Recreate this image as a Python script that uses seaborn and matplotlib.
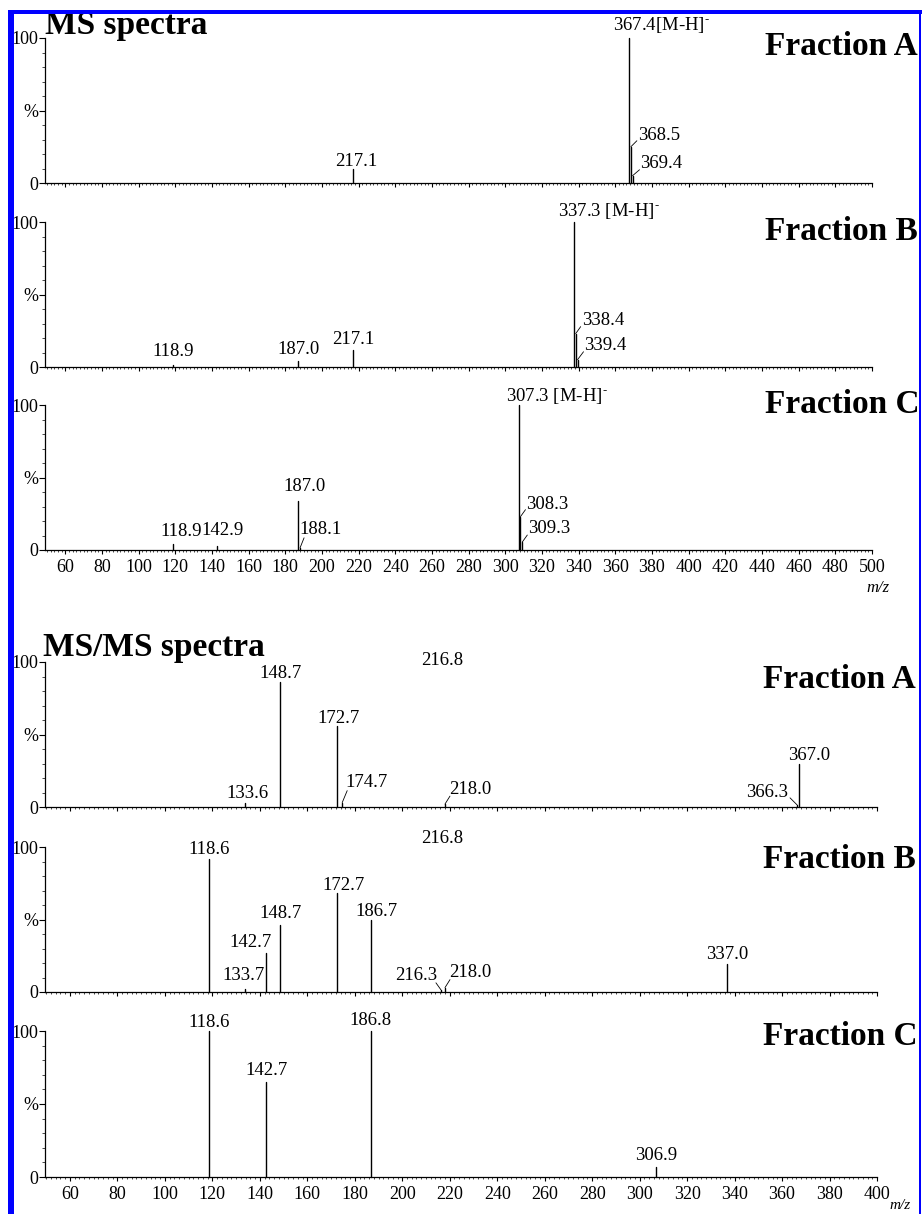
import numpy as np
import pandas as pd
import matplotlib
matplotlib.use("Agg")
import matplotlib.pyplot as plt
from matplotlib.patches import Rectangle
from matplotlib.ticker import MultipleLocator, FixedLocator
import seaborn as sns

# ---------------- data ----------------
TAG = r"[M-H]$^{\text{-}}$"

ms_a_mz = [217.1, 367.4, 368.5, 369.4]
ms_a_int = [10, 100, 25, 5]
ms_a_suffix = ["", TAG, "", ""]

ms_b_mz = [118.9, 187.0, 217.1, 337.3, 338.4, 339.4]
ms_b_int = [1.5, 4, 12, 100, 23, 5]
ms_b_suffix = ["", "", "", " " + TAG, "", ""]

ms_c_mz = [118.9, 142.9, 187.0, 188.1, 307.3, 308.3, 309.3]
ms_c_int = [4, 3, 34, 1.5, 100, 23, 5.5]
ms_c_suffix = ["", "", "", "", " " + TAG, "", ""]

msms_a_mz = [133.6, 148.7, 172.7, 174.7, 218.0, 366.3, 367.0]
msms_a_int = [3, 86, 56, 3, 2, 1.5, 30]

msms_b_mz = [118.6, 133.7, 142.7, 148.7, 172.7, 186.7, 216.3, 218.0, 337.0]
msms_b_int = [92, 2, 27, 46, 68, 50, 1.5, 3, 19]

msms_c_mz = [118.6, 142.7, 186.8, 306.9]
msms_c_int = [100, 65, 100, 7]

# base peak of MS/MS A and B: only its label is printed (above the frame)
msms_base_mz = 216.8

fractions = ["Fraction A", "Fraction B", "Fraction C"]
block_titles = ["MS spectra", "MS/MS spectra"]
ms_xticks = list(range(60, 501, 20))
msms_xticks = list(range(60, 401, 20))
y_ticks = [0, 50, 100]
y_ticklabels = ["0", "%", "100"]

# ---------------- layout (pixels) ----------------
W, H = 922, 1214
LBL = 13.5
TITLE = 24
# label layout per peak: (dx, dy, ha, leader)  leader = (x0, y0, x1, y1) in px
ms_a_lay = [(3, 3, "center", None), (-16, 8, "left", None),
            (7, 7, "left", (1, 1, 6, 6)), (8, 8, "left", (1, 1, 7, 6))]
ms_b_lay = [(0, 9, "center", None), (0, 7, "center", None), (0, 6, "center", None),
            (-16, 6, "left", None), (6, 9, "left", (1, 1, 5, 7)),
            (7, 10, "left", (1, 1, 6, 8))]
ms_c_lay = [(8, 8, "center", None), (5, 11, "center", None), (6, 10, "center", None),
            (-1, 14, "left", (0, 1, 4, 10)), (-13, 4, "left", None),
            (6, 8, "left", (1, 1, 5, 7)), (6, 9, "left", (1, 1, 5, 7))]
msms_a_lay = [(3, 5, "center", None), (0, 4, "center", None), (1, 3, "center", None),
              (3, 16, "left", (0, 2, 5, 12)), (4, 10, "left", (1, 1, 5, 8)),
              (-9, 8, "right", (-1, 1, -7, 7)), (10, 3, "center", None)]
msms_b_lay = [(0, 5, "center", None), (-1, 9, "center", None), (-16, 6, "center", None),
              (0, 7, "center", None), (6, 3, "center", None), (6, 4, "center", None),
              (-4, 10, "right", (-1, 1, -5, 7)), (4, 11, "left", (1, 1, 5, 8)),
              (0, 5, "center", None)]
msms_c_lay = [(0, 4, "center", None), (0, 7, "center", None), (0, 6, "center", None),
              (0, 7, "center", None)]

sns.set_style("ticks", rc={"axes.edgecolor": "black", "xtick.color": "black",
                           "ytick.color": "black", "text.color": "black",
                           "axes.labelcolor": "black"})
plt.rcParams["font.family"] = ["Liberation Serif", "DejaVu Serif"]
plt.rcParams["mathtext.fontset"] = "stix"

fig = plt.figure(figsize=(W / 100, H / 100), dpi=100)


def add_ax(left, right, top, bottom):
    return fig.add_axes([left / W, 1 - bottom / H, (right - left) / W, (bottom - top) / H])


def draw_panel(ax, mz, inten, lay, xlim, xticks, suffix=None, show_labels=False):
    n = len(mz)
    df = pd.DataFrame({
        "mz": np.repeat(mz, 2),
        "intensity": np.column_stack([np.zeros(n), inten]).ravel(),
        "peak": np.repeat(np.arange(n), 2),
    })
    sns.lineplot(data=df, x="mz", y="intensity", units="peak", estimator=None,
                 color="black", lw=1.0, ax=ax, legend=False, clip_on=False)
    for i, (m, v) in enumerate(zip(mz, inten)):
        dx, dy, ha, leader = lay[i]
        txt = f"{m:.1f}" + (suffix[i] if suffix else "")
        ax.annotate(txt, xy=(m, v), xytext=(dx, dy), textcoords="offset pixels",
                    ha=ha, va="baseline", fontsize=LBL, annotation_clip=False)
        if leader is not None:
            x0, y0, x1, y1 = leader
            ax.annotate("", xy=(m, v), xytext=(x1, y1), textcoords="offset pixels",
                        annotation_clip=False,
                        arrowprops=dict(arrowstyle="-", lw=0.6, color="black",
                                        shrinkA=0, shrinkB=0))
    ax.set_xlim(*xlim)
    ax.set_ylim(0, 100)
    ax.set_xticks(xticks)
    ax.xaxis.set_minor_locator(MultipleLocator(2))
    ax.set_yticks(y_ticks)
    ax.set_yticklabels(y_ticklabels)
    ax.yaxis.set_minor_locator(FixedLocator([10, 20, 30, 40, 60, 70, 80, 90]))
    ax.tick_params(axis="x", which="major", length=3.2, width=0.8, labelsize=13, pad=3,
                   labelbottom=show_labels)
    ax.tick_params(axis="x", which="minor", length=1.5, width=0.5)
    ax.tick_params(axis="y", which="major", length=4, width=0.8, labelsize=13, pad=1)
    ax.tick_params(axis="y", which="minor", length=2.5, width=0.5)
    ax.set_xlabel("")
    ax.set_ylabel("")
    sns.despine(ax=ax)
    for s in ("left", "bottom"):
        ax.spines[s].set_linewidth(0.9)
    ax.patch.set_alpha(0)


ms_rows = [(38, 183), (222, 367), (405, 550)]
msms_rows = [(662, 807), (847, 992), (1031, 1177)]

ms_data = [(ms_a_mz, ms_a_int, ms_a_lay, ms_a_suffix),
           (ms_b_mz, ms_b_int, ms_b_lay, ms_b_suffix),
           (ms_c_mz, ms_c_int, ms_c_lay, ms_c_suffix)]
msms_data = [(msms_a_mz, msms_a_int, msms_a_lay),
             (msms_b_mz, msms_b_int, msms_b_lay),
             (msms_c_mz, msms_c_int, msms_c_lay)]

ms_axes = []
for i, ((top, bot), (mz, it, lay, suf)) in enumerate(zip(ms_rows, ms_data)):
    ax = add_ax(45, 872, top, bot)
    draw_panel(ax, mz, it, lay, (49, 500), ms_xticks, suffix=suf, show_labels=(i == 2))
    ms_axes.append(ax)

msms_axes = []
for i, ((top, bot), (mz, it, lay)) in enumerate(zip(msms_rows, msms_data)):
    ax = add_ax(45, 877, top, bot)
    draw_panel(ax, mz, it, lay, (49.5, 400), msms_xticks, show_labels=(i == 2))
    msms_axes.append(ax)

# base-peak labels printed above MS/MS A and B frames
for ax, dy in ((msms_axes[0], -3), (msms_axes[1], 4)):
    ax.annotate(f"{msms_base_mz:.1f}", xy=(msms_base_mz, 100), xytext=(0, dy),
                textcoords="offset pixels", ha="center", va="baseline", fontsize=LBL,
                annotation_clip=False)

# titles and fraction names
fig.text(45 / W, 1 - 34 / H, block_titles[0], fontsize=TITLE, fontweight="bold",
         ha="left", va="baseline")
fig.text(43 / W, 1 - 656 / H, block_titles[1], fontsize=TITLE, fontweight="bold",
         ha="left", va="baseline")
for name, yb in zip(fractions, (55, 240, 413)):
    fig.text(765 / W, 1 - yb / H, name, fontsize=TITLE, fontweight="bold",
             ha="left", va="baseline")
for name, yb in zip(fractions, (688, 868, 1045)):
    fig.text(763 / W, 1 - yb / H, name, fontsize=TITLE, fontweight="bold",
             ha="left", va="baseline")

# m/z axis captions
fig.text(878 / W, 1 - 592 / H, "m/z", fontsize=12, style="italic", ha="center",
         va="baseline")
fig.text(900 / W, 1 - 1209 / H, "m/z", fontsize=11, style="italic", ha="center",
         va="baseline")

# blue frame
blue = "#0000FF"
for x, y, w, h in ((8, 0, 6, H - 10), (8, H - 14, W - 8, 4), (919, 0, 2, H - 10)):
    fig.add_artist(Rectangle((x / W, y / H), w / W, h / H, transform=fig.transFigure,
                             facecolor=blue, edgecolor="none", zorder=10))

fig.savefig("out.png", dpi=100)
